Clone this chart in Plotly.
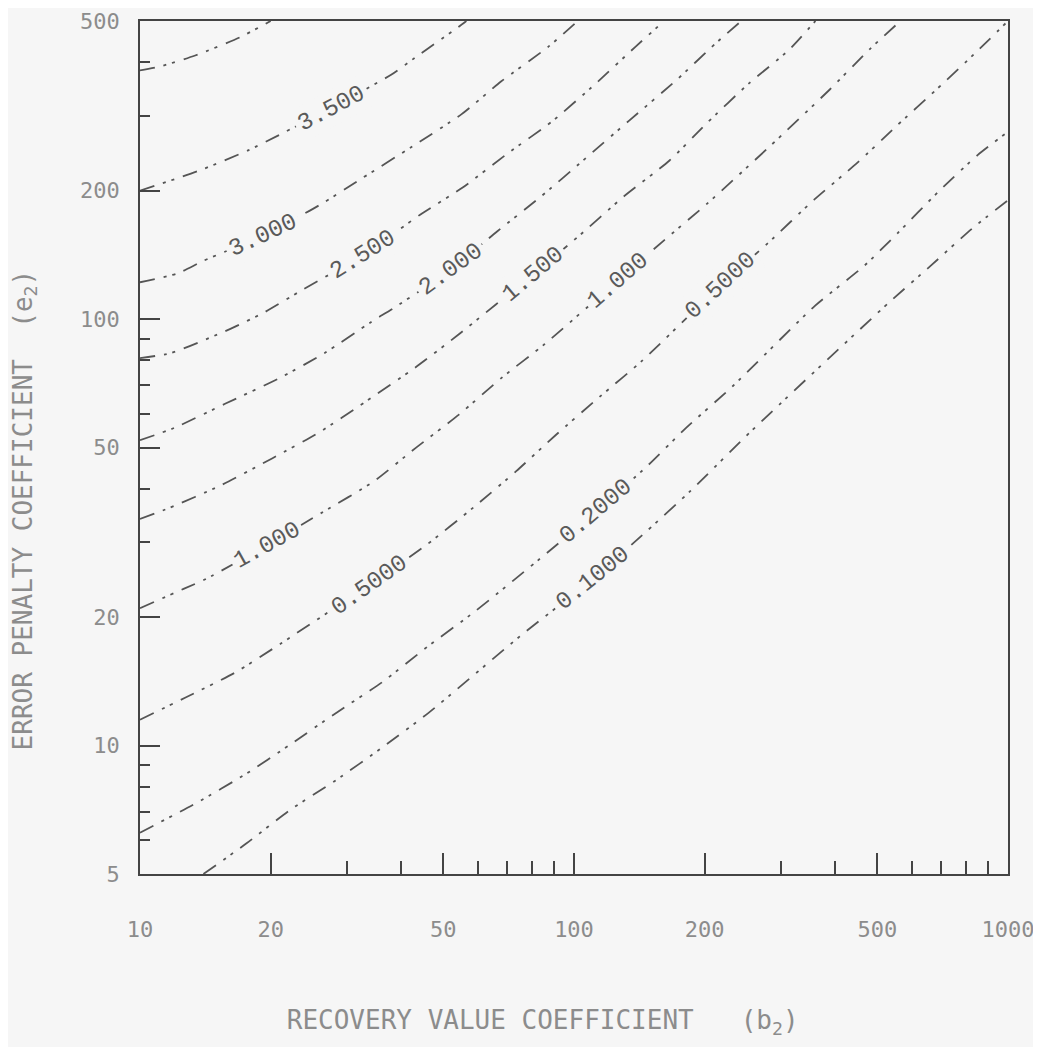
import numpy as np
import plotly.graph_objects as go

# ---- data (b2 = x, e2 = y) ----
C40_x = [10, 11.2, 13.4, 17.0, 20.0]
C40_y = [383, 392, 415, 458, 500]

C35_x = [10, 13.7, 17.8, 20.9, 27.6, 37.9, 43.0, 54.0, 56.5]
C35_y = [200, 223, 249, 270, 313, 374, 410, 483, 500]

C30_x = [10, 12.2, 14.0, 19.2, 25.9, 32.5, 42.4, 55.0, 68.0, 87.0, 102]
C30_y = [122, 128, 137, 157, 185, 214, 254, 302, 361, 434, 500]

C25_x = [10, 11.8, 16.2, 19.3, 23.8, 32.7, 44.2, 55.4, 69.9, 89.1, 112, 138.5, 156, 161]
C25_y = [81, 83.3, 95, 103.6, 117.5, 141.4, 175.7, 203.5, 243.5, 291, 356, 435, 485, 500]

C20_x = [10, 12.0, 15.7, 20.9, 26.6, 34.1, 38.5, 52.0, 66.6, 83.5, 104.7, 134, 172, 212, 243]
C20_y = [52, 55.6, 63.3, 72.6, 83.2, 98.5, 106.3, 130.6, 160.7, 193, 235, 292, 363, 443, 500]

C15_x = [10, 11.7, 15.3, 20.2, 25.9, 33.0, 43.0, 54.2, 80.4, 102, 130, 166, 202, 253, 313, 360]
C15_y = [34, 36.1, 40.7, 47.2, 54.3, 63.9, 76.9, 92.0, 127.4, 155.8, 193.6, 235.5, 287.6, 357, 428, 500]

C10_x = [10, 12.6, 14.2, 19.6, 26.4, 34.4, 43.2, 54.4, 68.3, 85.6, 126, 161, 203, 283, 388, 479, 565]
C10_y = [21, 23.3, 24.6, 29.5, 35.3, 41.5, 49.9, 59.8, 73.0, 87.4, 123, 152.8, 186.8, 254.5, 345, 428.5, 500]

C05_x = [10, 12.7, 16.5, 21.2, 33.7, 45.8, 58.7, 73.6, 90.8, 114.5, 143.6, 217.5, 280, 357, 450, 555, 685, 845, 1000]
C05_y = [11.5, 12.95, 14.8, 17.4, 23.8, 29.6, 36.2, 44.0, 53.5, 65.7, 79.9, 120, 150.8, 190.3, 232.7, 284.4, 345.9, 422.8, 500]

C02_x = [10, 13.5, 17.6, 22.0, 28.2, 36.2, 46.1, 59.0, 82.3, 112.3, 147, 181, 232, 359, 467, 559, 689, 851, 1000]
C02_y = [6.25, 7.34, 8.6, 10.0, 11.9, 14.1, 17.1, 20.6, 27.1, 35.3, 45.1, 55.5, 69.6, 107.4, 133.5, 159.7, 198.3, 242.4, 275]

C01_x = [14.0, 17.6, 22.1, 28.3, 36.3, 46.3, 75.1, 110.4, 147.4, 185.8, 256, 532, 667, 824, 1000]
C01_y = [5.0, 5.9, 7.05, 8.3, 9.93, 11.95, 18.05, 24.6, 31.9, 39.6, 54.6, 109.4, 134, 162.6, 190]

CONTOURS = [(C40_x, C40_y), (C35_x, C35_y), (C30_x, C30_y), (C25_x, C25_y),
            (C20_x, C20_y), (C15_x, C15_y), (C10_x, C10_y), (C05_x, C05_y),
            (C02_x, C02_y), (C01_x, C01_y)]

LABEL_TEXT = ["3.500", "3.000", "2.500", "2.000", "1.500", "1.000", "0.5000",
              "1.000", "0.5000", "0.2000", "0.1000"]
LABEL_X = [27.6, 19.2, 32.7, 52.0, 80.4, 126.4, 217.5, 19.6, 33.7, 112.3, 110.4]
LABEL_Y = [312.5, 157, 141.4, 130.6, 127.4, 123, 120, 29.5, 23.8, 35.3, 24.6]
LABEL_ANGLE = [28, 25, 32, 36, 40, 41, 43, 29, 35, 40, 39]

X_TICKS = [10, 20, 50, 100, 200, 500, 1000]
X_TICKTEXT = ["10", "20", "50", "100", "200", "500", "1000"]
X_MINOR = [30, 40, 60, 70, 80, 90, 300, 400, 600, 700, 800, 900]
Y_TICKS = [5, 10, 20, 50, 100, 200, 500]
Y_TICKTEXT = ["5", "10", "20", "50", "100", "200", "500"]
Y_MINOR = [6, 7, 8, 9, 30, 40, 60, 70, 80, 90, 300, 400]

BG = "#f6f6f6"
LINE = "#444444"
TEXT = "#8c8c8c"
MONO = "DejaVu Sans Mono"

fig = go.Figure()
for cx, cy in CONTOURS:
    fig.add_trace(go.Scatter(
        x=cx, y=cy, mode="lines",
        line=dict(color="#555555", width=1.8, dash="15px,9px,3px,6px,3px,9px",
                  shape="spline", smoothing=0.6),
        hoverinfo="skip", showlegend=False))

for t, lx, ly, a in zip(LABEL_TEXT, LABEL_X, LABEL_Y, LABEL_ANGLE):
    fig.add_annotation(x=np.log10(lx), y=np.log10(ly), xref="x", yref="y",
                       text=t, showarrow=False, textangle=-a,
                       font=dict(family="Liberation Mono", size=24, color="#5a5a5a"),
                       bgcolor=BG, borderpad=3)

fig.update_xaxes(type="log", range=[1, 3], tickmode="array",
                 tickvals=X_TICKS, ticktext=X_TICKTEXT,
                 ticks="inside", ticklen=21, tickwidth=2, tickcolor=LINE,
                 minor=dict(tickmode="array", tickvals=X_MINOR, ticks="inside",
                            ticklen=13, tickwidth=2, tickcolor=LINE, showgrid=False),
                 showline=True, linecolor=LINE, linewidth=1.6, mirror=True,
                 showgrid=False, zeroline=False, automargin=False,
                 ticklabelstandoff=35, ticklabeloverflow="allow",
                 tickfont=dict(family=MONO, size=22, color=TEXT),
                 title=dict(text="RECOVERY VALUE COEFFICIENT&nbsp;&nbsp;&nbsp;(b<sub>2</sub>)" + "&nbsp;" * 4,
                            font=dict(family=MONO, size=26, color=TEXT), standoff=70))

fig.update_yaxes(type="log", range=[np.log10(5), np.log10(500)], tickmode="array",
                 tickvals=Y_TICKS, ticktext=Y_TICKTEXT,
                 ticks="inside", ticklen=20, tickwidth=2, tickcolor=LINE,
                 minor=dict(tickmode="array", tickvals=Y_MINOR, ticks="inside",
                            ticklen=10, tickwidth=2, tickcolor=LINE, showgrid=False),
                 showline=True, linecolor=LINE, linewidth=1.6, mirror=True,
                 showgrid=False, zeroline=False, automargin=False,
                 ticklabelstandoff=14,
                 tickfont=dict(family=MONO, size=22, color=TEXT),
                 title=dict(text="ERROR PENALTY COEFFICIENT&nbsp;&nbsp;(e<sub>2</sub>)" + "&nbsp;" * 8,
                            font=dict(family=MONO, size=26, color=TEXT), standoff=41))

fig.update_layout(width=1025, height=1039,
                  margin=dict(l=132, r=25, t=13, b=173),
                  paper_bgcolor=BG, plot_bgcolor=BG,
                  showlegend=False)

fig.write_html("out.html")
